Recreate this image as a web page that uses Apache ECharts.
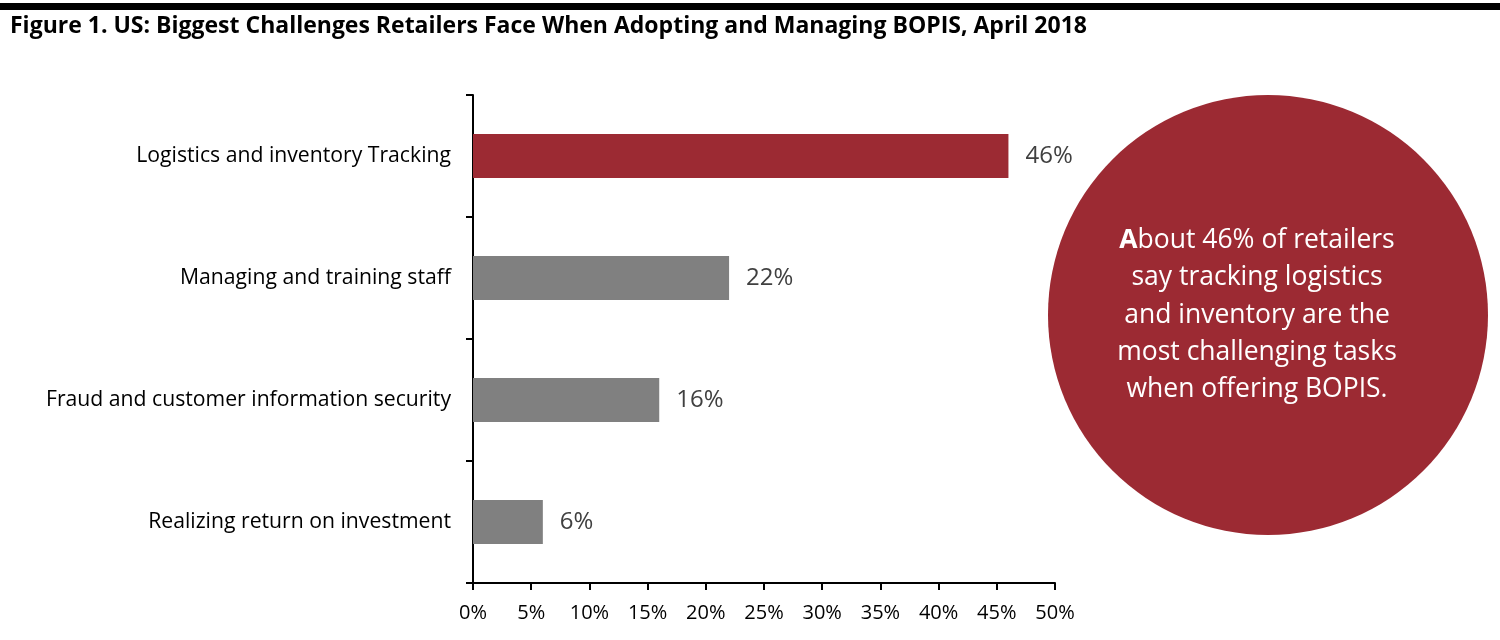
<!DOCTYPE html>
<html><head><meta charset="utf-8">
<script src="https://cdn.jsdelivr.net/npm/echarts@6/dist/echarts.min.js"></script>
<style>html,body{margin:0;padding:0;background:#fff}#c{width:1500px;height:640px}</style>
</head><body><div id="c"></div>
<script>
const title = 'Figure 1. US: Biggest Challenges Retailers Face When Adopting and Managing BOPIS, April 2018';
const categories = ['Logistics and inventory Tracking','Managing and training staff','Fraud and customer information security','Realizing return on investment'];
const values = [46, 22, 16, 6];
const barColors = ['#9C2A33','#808080','#808080','#808080'];
const calloutLines = ['About 46% of retailers','say tracking logistics','and inventory are the','most challenging tasks','when offering BOPIS.'];

const F = '"Open Sans", "Noto Sans", sans-serif';
const chart = echarts.init(document.getElementById('c'));
chart.setOption({
  animation: false,
  grid: {left: 473, right: 445, top: 95, bottom: 57, containLabel: false},
  xAxis: {
    type: 'value', min: 0, max: 50, interval: 5,
    axisLine: {show: true, lineStyle: {color: '#000', width: 2}},
    axisTick: {show: true, length: 7, lineStyle: {color: '#000', width: 2}},
    axisLabel: {formatter: '{value}%', color: '#000', fontFamily: F, fontSize: 20, margin: 20},
    splitLine: {show: false}
  },
  yAxis: {
    type: 'category', data: categories, inverse: true,
    axisLine: {show: true, lineStyle: {color: '#000', width: 2}},
    axisTick: {show: true, length: 7, lineStyle: {color: '#000', width: 2}},
    axisLabel: {color: '#000', fontFamily: F, fontSize: 21.2, margin: 22}
  },
  series: [{
    type: 'bar', barWidth: 44,
    data: values.map((v, i) => ({value: v, itemStyle: {color: barColors[i]}})),
    label: {show: true, position: 'right', distance: 17, formatter: '{c}%', color: '#404040', fontFamily: F, fontSize: 24}
  }],
  graphic: [
    {type: 'rect', shape: {x: 0, y: 3, width: 1500, height: 7}, style: {fill: '#000'}},
    {type: 'text', left: 10, top: 15, style: {text: title, font: 'bold 23px ' + F, fill: '#000'}},
    {type: 'circle', shape: {cx: 1268, cy: 315, r: 220}, style: {fill: '#9C2A33'}},
    {type: 'text', x: 1257, y: 315, style: {
      text: '{b|A}' + calloutLines[0].slice(1) + '\n' + calloutLines.slice(1).join('\n'),
      font: '26.5px ' + F, fill: '#fff', align: 'center', verticalAlign: 'middle', lineHeight: 37.3,
      rich: {b: {fontWeight: 'bold', fontSize: 26.5, fontFamily: F, fill: '#fff', lineHeight: 37.3}}
    }}
  ]
});
</script></body></html>
